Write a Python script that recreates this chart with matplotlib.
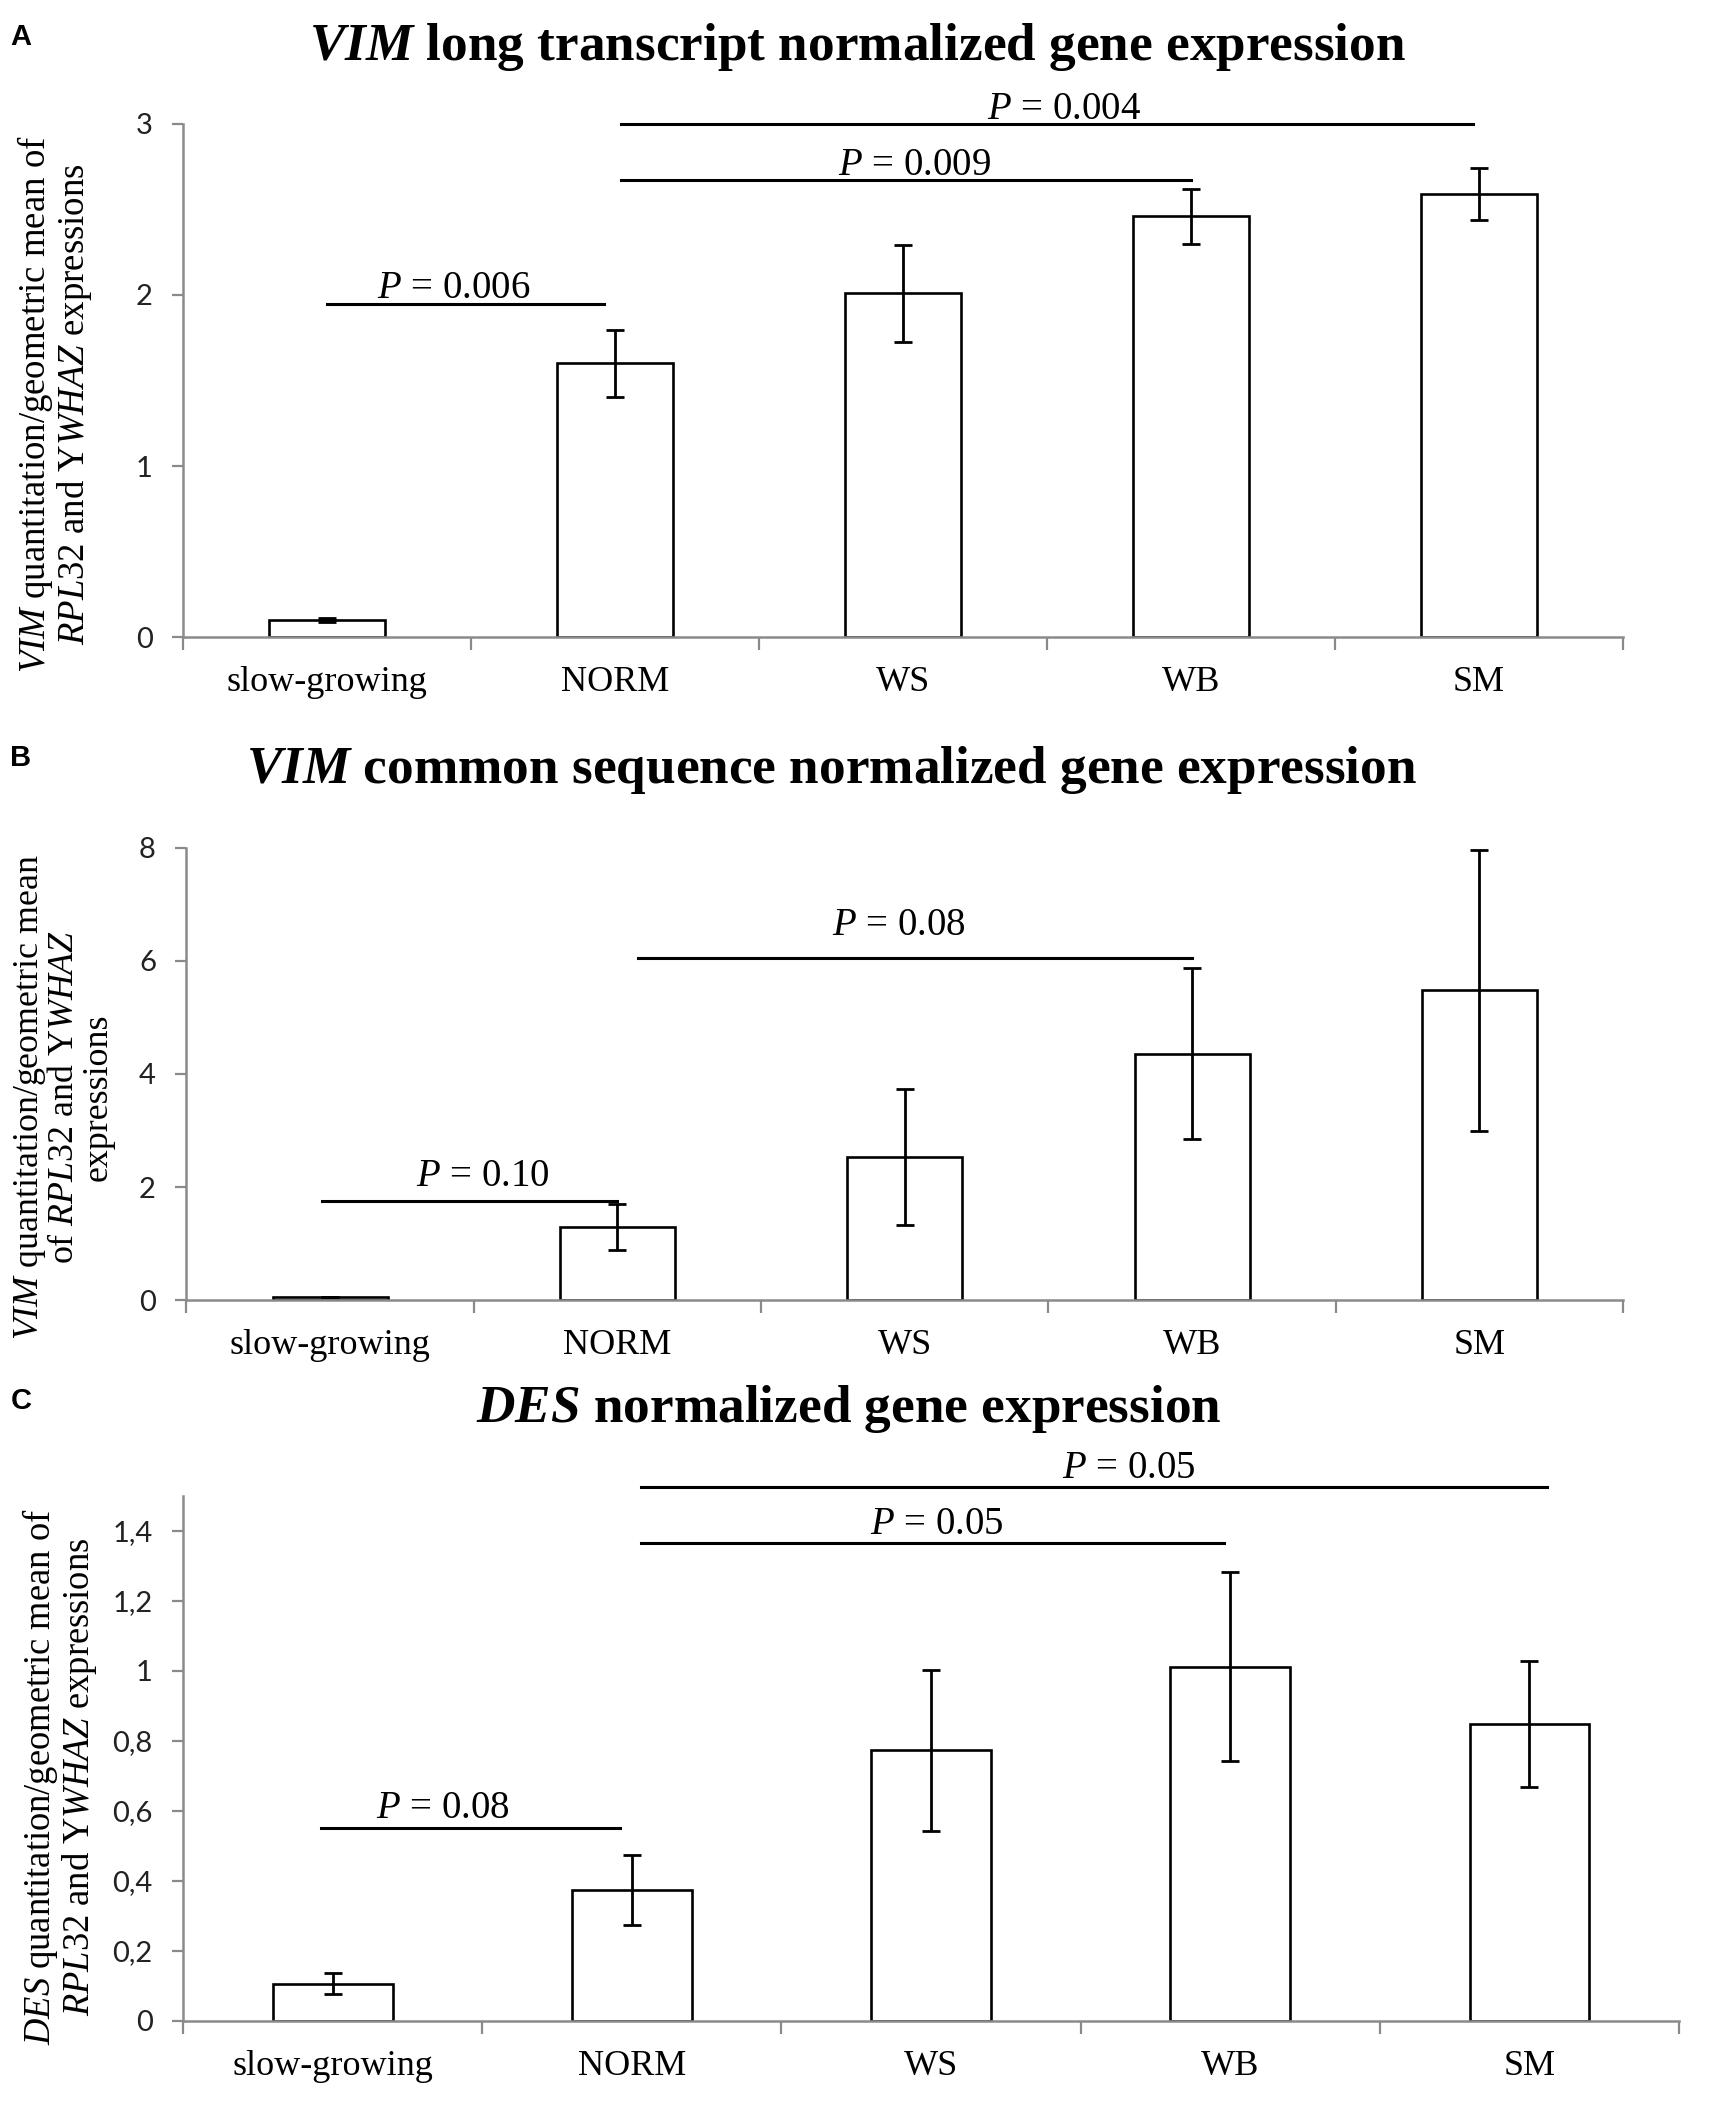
import numpy as np
import matplotlib
matplotlib.use("Agg")
import matplotlib.pyplot as plt

plt.rcParams['mathtext.fontset'] = 'custom'
plt.rcParams['mathtext.rm'] = 'Liberation Serif'
plt.rcParams['mathtext.it'] = 'Liberation Serif:italic'
plt.rcParams['mathtext.bf'] = 'Liberation Serif:bold'
plt.rcParams['mathtext.bfit'] = 'Liberation Serif:bold:italic'

# --- data ---
categories = ["slow-growing", "NORM", "WS", "WB", "SM"]

vim_long = [0.10, 1.60, 2.01, 2.46, 2.59]
vim_long_err = [0.01, 0.195, 0.285, 0.16, 0.15]

vim_common = [0.05, 1.29, 2.53, 4.36, 5.48]
vim_common_err = [0.0, 0.41, 1.20, 1.51, 2.48]

des = [0.106, 0.373, 0.773, 1.012, 0.849]
des_err = [0.03, 0.10, 0.23, 0.27, 0.18]

# significance bars: (x start, x end, line y, p value, text x, text baseline y)
sig_a = [(0.0, 0.96, 1.95, "0.006", 0.44, 1.98),
         (1.02, 3.0, 2.67, "0.009", 2.04, 2.70),
         (1.02, 3.98, 3.0, "0.004", 2.56, 3.03)]
sig_b = [(-0.03, 1.0, 1.76, "0.10", 0.53, 2.02),
         (1.07, 3.0, 6.06, "0.08", 1.98, 6.46)]
sig_c = [(-0.04, 0.96, 0.552, "0.08", 0.37, 0.579),
         (1.03, 2.98, 1.365, "0.05", 2.02, 1.391),
         (1.03, 4.06, 1.526, "0.05", 2.66, 1.552)]

yticks_a = [0, 1, 2, 3]
yticks_b = [0, 2, 4, 6, 8]
yticks_c = [0, 0.2, 0.4, 0.6, 0.8, 1.0, 1.2, 1.4]
ytick_labels_c = ["0", "0,2", "0,4", "0,6", "0,8", "1", "1,2", "1,4"]

SERIF = 'Liberation Serif'
GRAY = '#8a8a8a'


def draw_panel(ax, values, errors, ymax, yticks, ylabels, sigs):
    x = np.arange(len(categories))
    ax.bar(x, values, width=0.4, color='white', edgecolor='black', linewidth=1.9, zorder=2)
    ax.errorbar(x, values, yerr=errors, fmt='none', ecolor='black',
                elinewidth=2.0, capsize=6.5, capthick=2.0, zorder=3)
    ax.set_xlim(-0.5, len(categories) - 0.5)
    ax.set_ylim(0, ymax)

    for s in ['top', 'right']:
        ax.spines[s].set_visible(False)
    for s in ['left', 'bottom']:
        ax.spines[s].set_color(GRAY)
        ax.spines[s].set_linewidth(1.8)

    ax.set_yticks(yticks)
    ax.set_yticklabels(ylabels, fontfamily='Lato', fontsize=21, color='#222222')
    ax.tick_params(axis='y', direction='out', length=8, width=1.6, color=GRAY, pad=14)

    ax.set_xticks(np.arange(-0.5, len(categories), 1.0))
    ax.set_xticklabels([])
    ax.set_xticks(x, minor=True)
    ax.set_xticklabels(categories, minor=True, fontfamily=SERIF, fontsize=26)
    ax.tick_params(axis='x', which='major', direction='out', length=9, width=1.6, color=GRAY)
    ax.tick_params(axis='x', which='minor', length=0, pad=21)

    for x0, x1, yl, p, xt, yt in sigs:
        ax.plot([x0, x1], [yl, yl], color='black', lw=2.2, clip_on=False, zorder=4)
        ax.text(xt, yt, r"$P$ = " + p, ha='center', va='baseline',
                fontfamily=SERIF, fontsize=28, clip_on=False)


fig = plt.figure(figsize=(17.11, 21.04), dpi=100)

ax_a = fig.add_axes([0.107, 0.6972, 0.8416, 0.2439])
draw_panel(ax_a, vim_long, vim_long_err, 3, yticks_a, [str(t) for t in yticks_a], sig_a)

ax_b = fig.add_axes([0.109, 0.3821, 0.8396, 0.2149])
draw_panel(ax_b, vim_common, vim_common_err, 8, yticks_b, [str(t) for t in yticks_b], sig_b)

ax_c = fig.add_axes([0.107, 0.0395, 0.8743, 0.2495])
draw_panel(ax_c, des, des_err, 1.5, yticks_c, ytick_labels_c, sig_c)

# titles
fig.text(0.501, 0.9715, r"$\mathbfit{VIM}$ long transcript normalized gene expression",
         ha='center', va='baseline', fontfamily=SERIF, fontweight='bold', fontsize=38.3)
fig.text(0.486, 0.6278, r"$\mathbfit{VIM}$ common sequence normalized gene expression",
         ha='center', va='baseline', fontfamily=SERIF, fontweight='bold', fontsize=38.3)
fig.text(0.496, 0.3241, r"$\mathbfit{DES}$ normalized gene expression",
         ha='center', va='baseline', fontfamily=SERIF, fontweight='bold', fontsize=38.3)

# panel letters
for lab, ytop in [("A", 23), ("B", 744), ("C", 1387)]:
    fig.text(0.006, 1 - ytop / 2104, lab, ha='left', va='top',
             fontfamily='Liberation Sans', fontweight='bold', fontsize=21)

# y axis labels
fig.text(0.032, 0.808,
         r"$\mathit{VIM}$ quantitation/geometric mean of" + "\n" +
         r"$\mathit{RPL32}$ and Y$\mathit{WHAZ}$ expressions",
         rotation=90, ha='center', va='center', multialignment='center',
         fontfamily=SERIF, fontsize=26.5, linespacing=1.0)
fig.text(0.037, 0.4786,
         r"$\mathit{VIM}$ quantitation/geometric mean" + "\n" +
         r"of $\mathit{RPL32}$ and Y$\mathit{WHAZ}$" + "\n" + "expressions",
         rotation=90, ha='center', va='center', multialignment='center',
         fontfamily=SERIF, fontsize=25.8, linespacing=1.0)
fig.text(0.035, 0.1554,
         r"$\mathit{DES}$ quantitation/geometric mean of" + "\n" +
         r"$\mathit{RPL32}$ and Y$\mathit{WHAZ}$ expressions",
         rotation=90, ha='center', va='center', multialignment='center',
         fontfamily=SERIF, fontsize=26.3, linespacing=1.0)

fig.savefig("out.png", dpi=100)
